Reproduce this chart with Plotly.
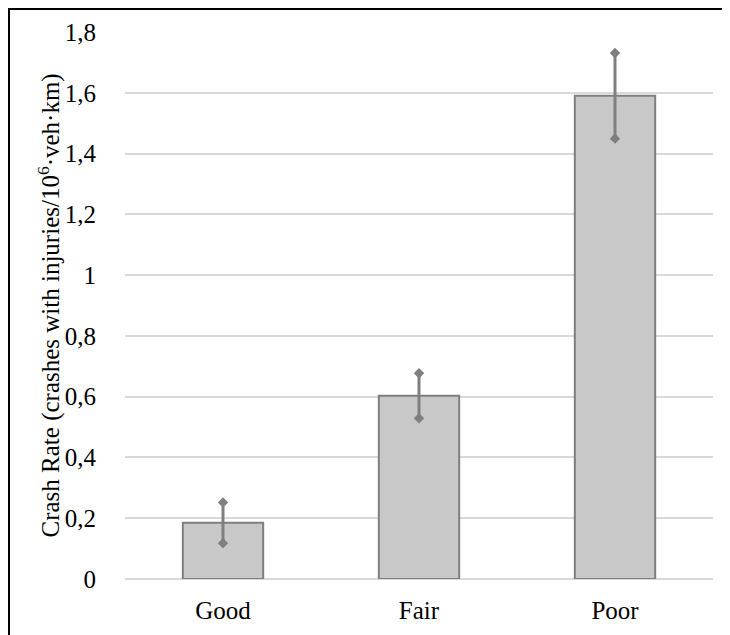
import plotly.graph_objects as go

categories = ["Good", "Fair", "Poor"]
values = [0.185, 0.603, 1.59]
errors = [0.067, 0.074, 0.141]
y_ticks = [0, 0.2, 0.4, 0.6, 0.8, 1.0, 1.2, 1.4, 1.6, 1.8]

FONT = "Liberation Serif"
GREY = "#7f7f7f"
FS = 25

fig = go.Figure()
fig.add_trace(go.Bar(
    x=categories, y=values, width=0.41,
    marker=dict(color="#c8c8c8", line=dict(color=GREY, width=2)),
    error_y=dict(type="data", array=errors, visible=True, color=GREY,
                 thickness=3, width=0),
    showlegend=False, hoverinfo="skip",
))
ends_x = categories + categories
ends_y = [v + e for v, e in zip(values, errors)] + [v - e for v, e in zip(values, errors)]
fig.add_trace(go.Scatter(
    x=ends_x, y=ends_y, mode="markers",
    marker=dict(symbol="diamond", size=8, color=GREY),
    showlegend=False, hoverinfo="skip",
))

# page body adds an 8px offset; figure sized to fit the window
W, H = 722, 627
L, R, T, B = 117, 17, 24, 56
pw, ph = W - L - R, H - T - B

fig.update_layout(
    width=W, height=H,
    margin=dict(l=L, r=R, t=T, b=B, pad=0, autoexpand=False),
    paper_bgcolor="white", plot_bgcolor="white",
    separators=", ",
    font=dict(family=FONT, size=FS, color="black"),
    xaxis=dict(showgrid=False, showline=False, zeroline=False, automargin=False,
               ticks="outside", ticklen=9, tickcolor="rgba(0,0,0,0)",
               tickfont=dict(family=FONT, size=FS, color="black")),
    yaxis=dict(range=[0, 1.8], tickvals=y_ticks, showgrid=True, automargin=False,
               gridcolor="#d9d9d9", gridwidth=1.5, zeroline=True,
               zerolinecolor="#d9d9d9", zerolinewidth=1.5,
               showline=False, ticks="outside", ticklen=23,
               tickcolor="rgba(0,0,0,0)",
               tickfont=dict(family=FONT, size=FS, color="black")),
    shapes=[dict(type="rect", xref="paper", yref="paper",
                 x0=(0.5 - L) / pw, x1=(W + 10 - L) / pw,
                 y0=-(H + 10 - T - ph) / ph, y1=(H - 0.5 - B) / ph,
                 line=dict(color="black", width=3), layer="above")],
    annotations=[dict(text="Crash Rate (crashes with injuries/10<sup>6</sup>·veh·km)",
                      xref="paper", yref="paper",
                      x=(41 - L) / pw, y=0.5, textangle=-90,
                      showarrow=False,
                      font=dict(family=FONT, size=FS, color="black"),
                      xanchor="center", yanchor="middle")],
)

fig.write_html("out.html")
